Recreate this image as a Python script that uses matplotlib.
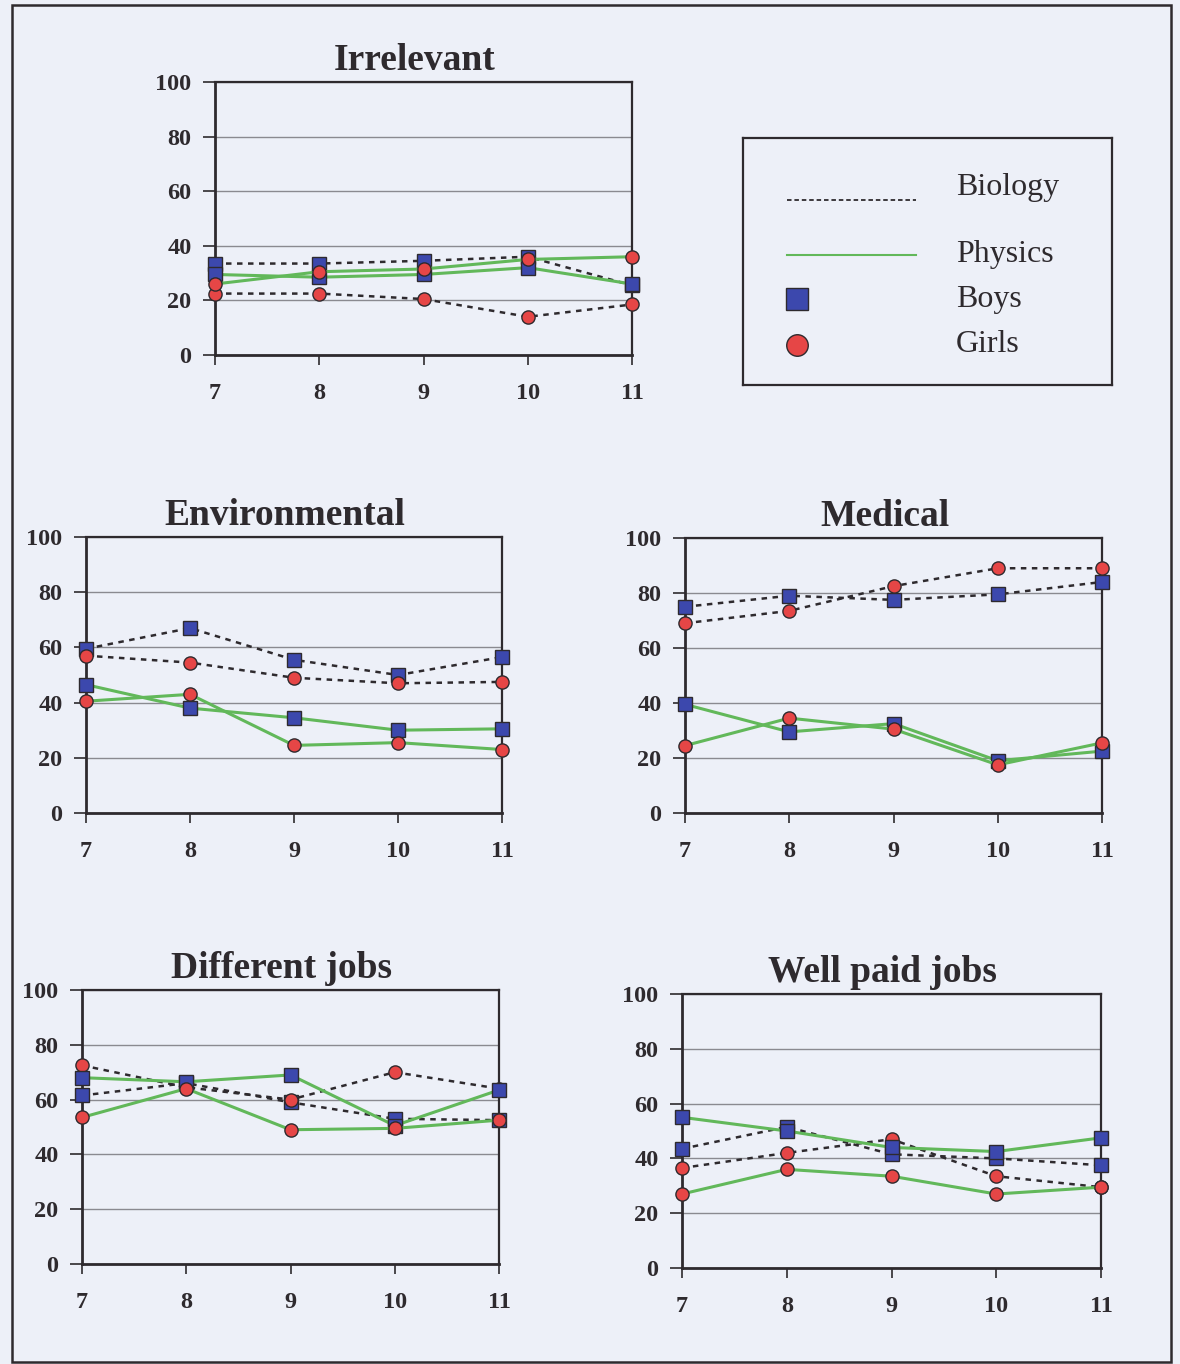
import matplotlib
matplotlib.use("Agg")
import matplotlib.pyplot as plt
from matplotlib.patches import Rectangle

# ---- data: percentage of pupils per school year ----
grades = [7, 8, 9, 10, 11]
y_ticks = [0, 20, 40, 60, 80, 100]

irrelevant_bio_boys = [33.5, 33.5, 34.5, 36, 25.5]
irrelevant_bio_girls = [22.5, 22.5, 20.5, 14, 18.5]
irrelevant_phy_boys = [29.5, 28.5, 29.5, 32, 26]
irrelevant_phy_girls = [26, 30.5, 31.5, 35, 36]

environmental_bio_boys = [59.5, 67, 55.5, 50, 56.5]
environmental_bio_girls = [57, 54.5, 49, 47, 47.5]
environmental_phy_boys = [46.5, 38, 34.5, 30, 30.5]
environmental_phy_girls = [40.5, 43, 24.5, 25.5, 23]

medical_bio_boys = [75, 79, 77.5, 79.5, 84]
medical_bio_girls = [69, 73.5, 82.5, 89, 89]
medical_phy_boys = [39.5, 29.5, 32.5, 19, 22.5]
medical_phy_girls = [24.5, 34.5, 30.5, 17.5, 25.5]

jobs_bio_boys = [61.5, 66, 59, 53, 52.5]
jobs_bio_girls = [72.5, 64.5, 60, 70, 64]
jobs_phy_boys = [68, 66.5, 69, 50.5, 63.5]
jobs_phy_girls = [53.5, 64, 49, 49.5, 52.5]

wellpaid_bio_boys = [43.5, 51.5, 41.5, 40, 37.5]
wellpaid_bio_girls = [36.5, 42, 47, 33.5, 29.5]
wellpaid_phy_boys = [55, 50, 44, 42.5, 47.5]
wellpaid_phy_girls = [27, 36, 33.5, 27, 29.5]

legend_labels = ["Biology", "Physics", "Boys", "Girls"]

# ---- styling ----
W, H = 1180, 1364
BG = "#edf0f8"
DARK = "#2e2a2e"
GRID = "#8a8a90"
GREEN = "#62b85a"
BLUE = "#3c48ad"
RED = "#e64646"
SERIF = ["Liberation Serif", "DejaVu Serif"]

fig = plt.figure(figsize=(W / 100, H / 100), dpi=100, facecolor=BG)


def px_axes(x0, y0, x1, y1):
    return fig.add_axes([x0 / W, 1 - y1 / H, (x1 - x0) / W, (y1 - y0) / H])


def draw_panel(box, title, bio_boys, bio_girls, phy_boys, phy_girls):
    ax = px_axes(*box)
    ax.set_facecolor(BG)
    ax.set_xlim(7, 11)
    ax.set_ylim(0, 100)
    ax.set_xticks(grades)
    ax.set_yticks(y_ticks)
    ax.set_xticklabels([str(g) for g in grades])
    ax.set_yticklabels([str(t) for t in y_ticks])
    for lab in ax.get_xticklabels() + ax.get_yticklabels():
        lab.set_fontfamily(SERIF)
        lab.set_fontweight("bold")
        lab.set_fontsize(17.5)
        lab.set_color(DARK)
    ax.tick_params(axis="y", direction="out", length=9, width=1.2,
                   color=DARK, pad=8)
    ax.tick_params(axis="x", direction="out", length=7, width=1.2,
                   color=DARK, pad=13)
    for sp in ax.spines.values():
        sp.set_color(DARK)
        sp.set_linewidth(1.6)
    ax.spines["left"].set_linewidth(2.0)
    ax.spines["bottom"].set_linewidth(2.0)
    ax.yaxis.grid(True, color=GRID, linewidth=1.0)
    ax.set_axisbelow(True)

    dash = (0, (2.2, 2.2))
    common = dict(clip_on=False, markeredgecolor=DARK, markeredgewidth=1.0)
    ax.plot(grades, bio_boys, color=DARK, lw=1.8, linestyle=dash,
            marker="s", markersize=10, markerfacecolor=BLUE, zorder=3, **common)
    ax.plot(grades, bio_girls, color=DARK, lw=1.8, linestyle=dash,
            marker="o", markersize=9.5, markerfacecolor=RED, zorder=3, **common)
    ax.plot(grades, phy_boys, color=GREEN, lw=2.2, linestyle="-",
            marker="s", markersize=10, markerfacecolor=BLUE, zorder=4, **common)
    ax.plot(grades, phy_girls, color=GREEN, lw=2.2, linestyle="-",
            marker="o", markersize=9.5, markerfacecolor=RED, zorder=4, **common)

    height = box[3] - box[1]
    width = box[2] - box[0]
    ax.text(0.5 - 9 / width, 1 + 12 / height, title, transform=ax.transAxes,
            ha="center", va="baseline", fontsize=27, fontweight="bold",
            family=SERIF, color=DARK)
    return ax


draw_panel((215, 82, 632, 355), "Irrelevant",
           irrelevant_bio_boys, irrelevant_bio_girls,
           irrelevant_phy_boys, irrelevant_phy_girls)
draw_panel((86, 537, 502, 813), "Environmental",
           environmental_bio_boys, environmental_bio_girls,
           environmental_phy_boys, environmental_phy_girls)
draw_panel((685, 538, 1102, 813), "Medical",
           medical_bio_boys, medical_bio_girls,
           medical_phy_boys, medical_phy_girls)
draw_panel((82, 990, 499, 1264), "Different jobs",
           jobs_bio_boys, jobs_bio_girls,
           jobs_phy_boys, jobs_phy_girls)
draw_panel((682, 994, 1101, 1268), "Well paid jobs",
           wellpaid_bio_boys, wellpaid_bio_girls,
           wellpaid_phy_boys, wellpaid_phy_girls)

# ---- key box, laid out in pixel coordinates ----
lg = px_axes(743, 138, 1112, 385)
lg.set_xlim(743, 1112)
lg.set_ylim(385, 138)
lg.set_facecolor(BG)
lg.set_xticks([])
lg.set_yticks([])
for sp in lg.spines.values():
    sp.set_color(DARK)
    sp.set_linewidth(1.6)
lg.plot([787, 916], [200, 200], color=DARK, lw=1.3, linestyle=(0, (2.5, 1.6)))
lg.plot([787, 916], [255, 255], color=GREEN, lw=1.5)
lg.plot([797], [299], marker="s", markersize=15.5, markerfacecolor=BLUE,
        markeredgecolor=DARK, markeredgewidth=1.0, linestyle="none")
lg.plot([797], [345], marker="o", markersize=15.5, markerfacecolor=RED,
        markeredgecolor=DARK, markeredgewidth=1.0, linestyle="none")
for label, yb in zip(legend_labels, [195, 262, 307, 352]):
    lg.text(956, yb, label, ha="left", va="baseline", fontsize=23,
            family=SERIF, color=DARK)

# ---- outer frame ----
fig.patches.append(Rectangle((12 / W, 1 - 1362 / H), (1171 - 12) / W,
                             (1362 - 5) / H, transform=fig.transFigure,
                             fill=False, edgecolor=DARK, linewidth=1.8))

fig.savefig("out.png", dpi=100, facecolor=BG)
